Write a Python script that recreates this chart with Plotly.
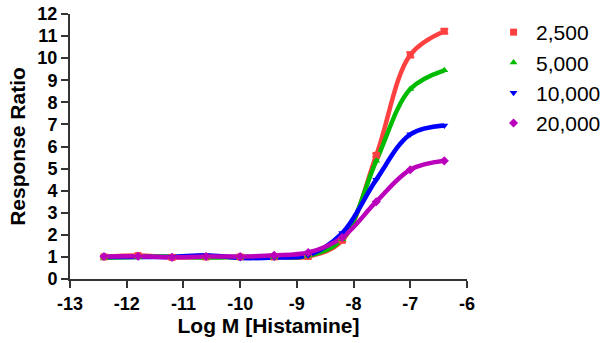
import plotly.graph_objects as go

log_m = [-12.4, -11.8, -11.2, -10.6, -10.0, -9.4, -8.8, -8.2, -7.6, -7.0, -6.4]

series_names = ["2,500", "5,000", "10,000", "20,000"]
resp_2500 = [1.00, 1.06, 0.98, 1.00, 1.00, 1.00, 1.02, 1.75, 5.60, 10.15, 11.22]
resp_5000 = [0.96, 1.00, 1.02, 0.97, 1.00, 1.00, 1.05, 1.80, 5.35, 8.60, 9.45]
resp_10000 = [1.00, 1.00, 1.00, 1.08, 0.95, 0.97, 1.08, 2.08, 4.50, 6.55, 6.95]
resp_20000 = [1.02, 1.03, 0.98, 1.02, 1.02, 1.07, 1.20, 1.88, 3.50, 4.95, 5.35]
err_2500 = [0.03, 0.05, 0.03, 0.03, 0.03, 0.03, 0.03, 0.05, 0.08, 0.12, 0.10]

x_ticks = [-13, -12, -11, -10, -9, -8, -7, -6]
x_tick_labels = ["-13", "-12", "-11", "-10", "-9", "-8", "-7", "-6"]
y_ticks = list(range(0, 13))

colors = ["#FF4040", "#00BB00", "#0000FF", "#BB00BB"]
symbols = ["square", "triangle-up", "triangle-down", "diamond"]
values = [resp_2500, resp_5000, resp_10000, resp_20000]

fig = go.Figure()
for i, (name, ys) in enumerate(zip(series_names, values)):
    fig.add_trace(go.Scatter(
        x=log_m, y=ys, mode="lines", line=dict(color=colors[i], width=4.5, shape="spline", smoothing=1.0),
        showlegend=False, legendgroup=name, hoverinfo="skip"))
for i, (name, ys) in enumerate(zip(series_names, values)):
    kw = {}
    if i == 0:
        kw["error_y"] = dict(type="data", array=err_2500, color=colors[i], thickness=1.5, width=4)
    fig.add_trace(go.Scatter(
        x=log_m, y=ys, mode="markers", name=name, legendgroup=name,
        marker=dict(color=colors[i], symbol=symbols[i], size=7), **kw))

tick_font = dict(family="Liberation Sans, Arial", size=18, color="black", weight="bold")
title_font = dict(family="Liberation Sans, Arial", size=21, color="black", weight="bold")
fig.update_layout(
    width=604, height=343,
    margin=dict(l=70, r=137, t=14, b=64, autoexpand=False),
    plot_bgcolor="white", paper_bgcolor="white",
    font=dict(family="Liberation Sans, Arial", color="black"),
    legend=dict(x=0.813, y=0.965, xref="container", yref="container", xanchor="left", yanchor="top",
                font=dict(size=21, color="black"), tracegroupgap=0,
                traceorder="grouped", itemwidth=35, bgcolor="rgba(0,0,0,0)"),
    xaxis=dict(range=[-13, -6], tickvals=x_ticks, ticktext=x_tick_labels, automargin=False,
               showgrid=False, zeroline=False, showline=True, linecolor="#333", linewidth=2,
               ticks="outside", ticklen=7, tickwidth=2, tickcolor="#333",
               tickfont=tick_font,
               title=dict(text="Log M [Histamine]", font=title_font, standoff=6)),
    yaxis=dict(range=[0, 12], tickvals=y_ticks, automargin=False,
               showgrid=False, zeroline=False, showline=True, linecolor="#333", linewidth=2,
               ticks="outside", ticklen=7, tickwidth=2, tickcolor="#333",
               tickfont=tick_font,
               title=dict(text="Response Ratio", font=title_font, standoff=6)),
)

fig.write_html("out.html", config={"displayModeBar": False},
               post_script="document.body.style.margin='0';document.body.style.overflow='hidden';")
